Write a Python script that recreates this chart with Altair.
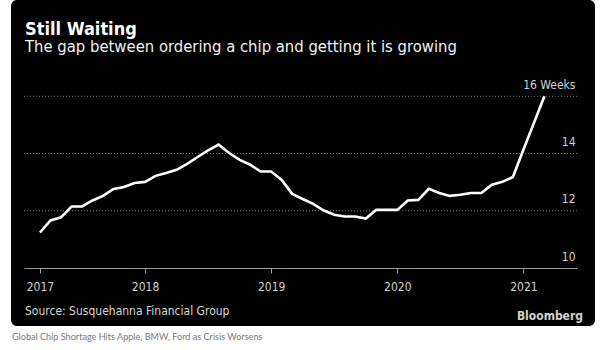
import altair as alt
import pandas as pd

# ---- data ----
months = [
    "2017-03", "2017-04", "2017-05", "2017-06", "2017-07", "2017-08", "2017-09",
    "2017-10", "2017-11", "2017-12",
    "2018-01", "2018-02", "2018-03", "2018-04", "2018-05", "2018-06", "2018-07",
    "2018-08", "2018-09", "2018-10", "2018-11", "2018-12",
    "2019-01", "2019-02", "2019-03", "2019-04", "2019-05", "2019-06", "2019-07",
    "2019-08", "2019-09", "2019-10", "2019-11", "2019-12",
    "2020-01", "2020-02", "2020-03", "2020-04", "2020-05", "2020-06", "2020-07",
    "2020-08", "2020-09", "2020-10", "2020-11", "2020-12",
    "2021-01", "2021-02", "2021-03",
]
lead_weeks = [
    11.24, 11.66, 11.77, 12.15, 12.15, 12.36, 12.52, 12.76, 12.83, 12.97,
    13.01, 13.22, 13.32, 13.43, 13.64, 13.88, 14.11, 14.31, 14.02, 13.78, 13.61, 13.37,
    13.37, 13.08, 12.59, 12.41, 12.24, 12.01, 11.86, 11.80, 11.80, 11.73, 12.03, 12.03,
    12.03, 12.36, 12.38, 12.77, 12.62, 12.52, 12.56, 12.62, 12.62, 12.91, 13.01, 13.18,
    14.13, 15.07, 16.0,
]
tick_months = ["2017-03", "2018-01", "2019-01", "2020-01", "2021-01"]
y_ticks = [10, 12, 14, 16]
grid_weeks = [12, 14, 16]

TITLE = "Still Waiting"
SUBTITLE = "The gap between ordering a chip and getting it is growing"
SOURCE = "Source: Susquehanna Financial Group"
BRAND = "Bloomberg"
CAPTION = "Global Chip Shortage Hits Apple, BMW, Ford as Crisis Worsens"

FONT = "DejaVu Sans Condensed, DejaVu Sans"


def month_index(s):
    y, m = s.split("-")
    return (int(y) - 2017) * 12 + (int(m) - 1)


df = pd.DataFrame({"month": months, "weeks": lead_weeks})
df["t"] = df["month"].map(month_index)
tick_idx = [month_index(m) for m in tick_months]

x_scale = alt.Scale(domain=[0.48, 53.1], nice=False, zero=False)
y_scale = alt.Scale(domain=[10, 16.5], nice=False, zero=False)

x_axis = alt.Axis(
    values=tick_idx, labelExpr="'' + (2017 + floor(datum.value / 12))",
    grid=False, title=None, tickSize=5, tickColor="#9a9a9a", domainColor="#9a9a9a",
    labelColor="#cfcfcf", labelFont=FONT, labelFontSize=12, labelPadding=8.5,
    labelFlush=False, zindex=1,
)
y_axis = alt.Axis(
    orient="right", values=y_ticks, grid=False, domain=False, ticks=False, tickSize=0,
    labelAlign="right", labelPadding=-2, labelBaseline="alphabetic", labelOffset=-8,
    labelFlush=False, labelColor="#cfcfcf", labelFont=FONT, labelFontSize=12,
    labelExpr="datum.value == 16 ? '16 Weeks' : datum.label", title=None, zindex=1,
)

x_enc = alt.X("t:Q", scale=x_scale, axis=x_axis)
y_enc = alt.Y("weeks:Q", scale=y_scale, axis=y_axis)

panel = alt.Chart(pd.DataFrame({"k": [0]})).mark_rect(
    color="black", cornerRadius=6
).encode(x=alt.value(-13), x2=alt.value(571), y=alt.value(-82), y2=alt.value(244))

grid = alt.Chart(pd.DataFrame({"weeks": grid_weeks})).mark_rule(
    color="#7a7a7a", strokeDash=[1, 2], strokeWidth=1
).encode(y=y_enc)

line = alt.Chart(df).mark_line(color="white", strokeWidth=2.6).encode(
    x=x_enc, y=y_enc
)


def label(text, x, y, size, color, weight="normal", align="left", font=FONT):
    return alt.Chart(pd.DataFrame({"txt": [text]})).mark_text(
        align=align, baseline="alphabetic", font=font, fontSize=size,
        fontWeight=weight, color=color,
    ).encode(text="txt:N", x=alt.value(x), y=alt.value(y))


texts = [
    label(TITLE, 1, -47, 18, "white", weight="bold"),
    label(SUBTITLE, 1, -30, 16.5, "#f2f2f2"),
    label(SOURCE, 1, 232.5, 12, "#d6d6d6"),
    label(BRAND, 559, 238, 12, "#d0d0d0", weight="bold", align="right"),
    label(CAPTION, -12, 258, 9.1, "#7a7a7a", font="Lato"),
]

chart = alt.layer(panel, grid, line, *texts).properties(
    width=553, height=186,
    autosize=alt.AutoSizeParams(type="none"),
    padding={"left": 24, "right": 23, "top": 82, "bottom": 82},
    background="white",
).configure_view(stroke=None)

chart.save("out.html", embed_options={"renderer": "svg", "actions": False})
